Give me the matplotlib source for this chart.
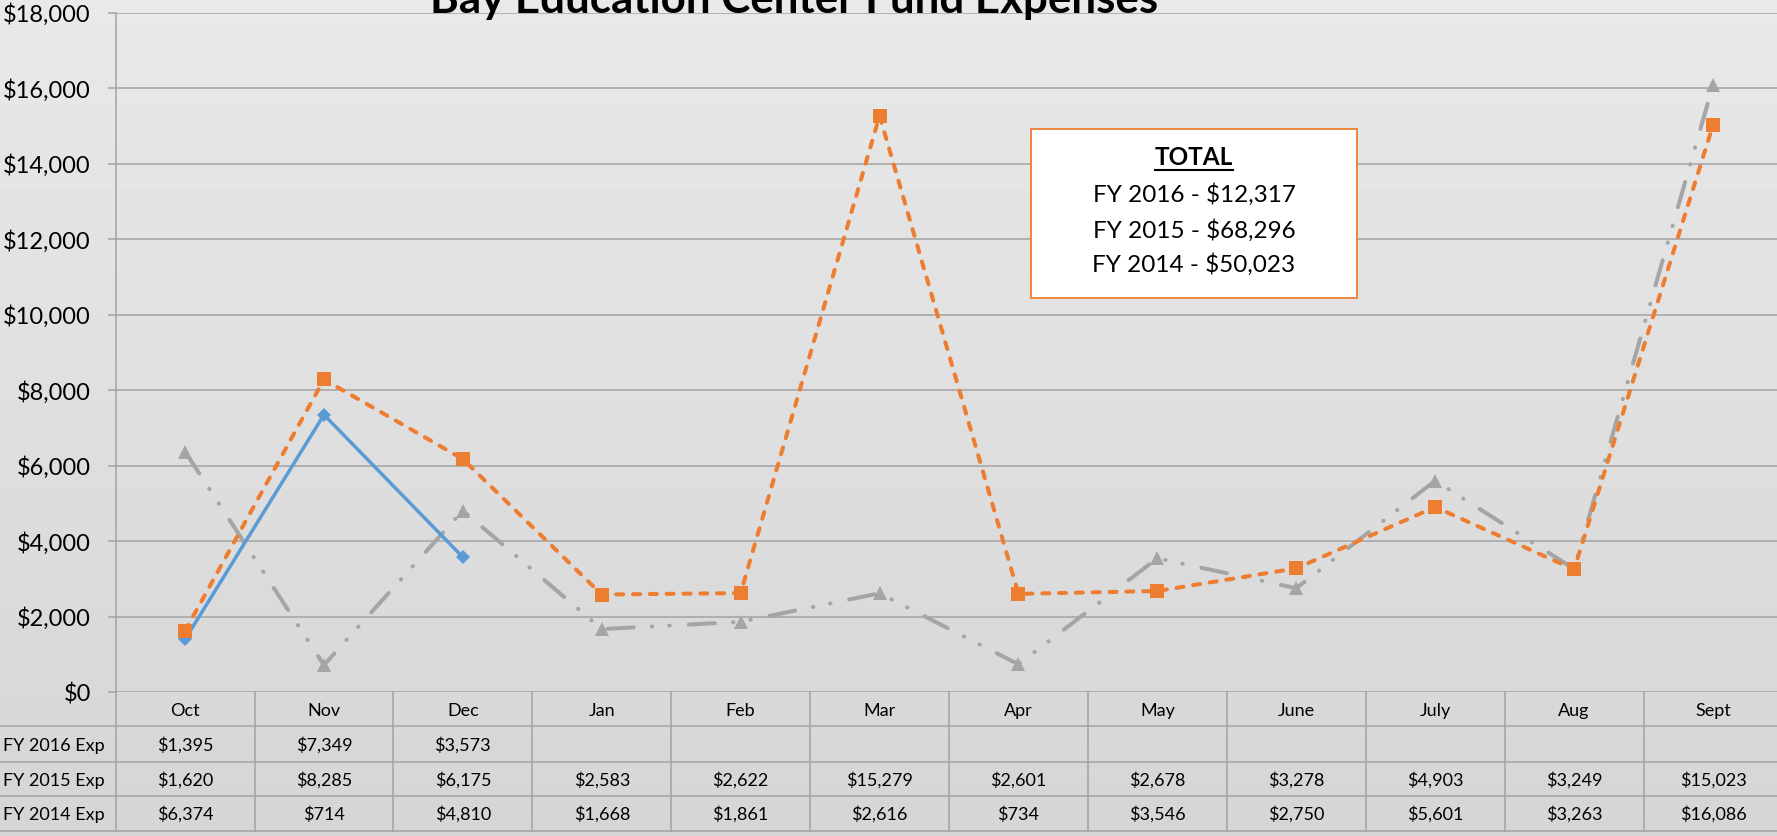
import matplotlib
matplotlib.use('Agg')
import matplotlib.pyplot as plt
import numpy as np
from matplotlib.lines import Line2D
from matplotlib.patches import Rectangle
import matplotlib.transforms as mtransforms
from matplotlib.ticker import FuncFormatter

# ---------------- data ----------------
months = ['Oct', 'Nov', 'Dec', 'Jan', 'Feb', 'Mar', 'Apr', 'May', 'June', 'July', 'Aug', 'Sept']
fy2016 = [1395, 7349, 3573]
fy2015 = [1620, 8285, 6175, 2583, 2622, 15279, 2601, 2678, 3278, 4903, 3249, 15023]
fy2014 = [6374, 714, 4810, 1668, 1861, 2616, 734, 3546, 2750, 5601, 3263, 16086]
series_labels = ['FY 2016 Exp', 'FY 2015 Exp', 'FY 2014 Exp']
box_labels = ['FY 2016', 'FY 2015', 'FY 2014']
title = 'Bay Education Center Fund Expenses'
yticks = list(range(0, 18001, 2000))

FONT = ['Lato', 'DejaVu Sans']
plt.rcParams['font.family'] = FONT

W, H = 1777, 836
fig = plt.figure(figsize=(W / 100, H / 100), dpi=100)

def fx(px):
    return px / W

def fy(py):  # py measured from top
    return 1 - py / H

# background gradient
bg = fig.add_axes([0, 0, 1, 1], zorder=-10)
grad = np.linspace(0.912, 0.835, 256)[:, None]
bg.imshow(grad, cmap='gray', vmin=0, vmax=1, aspect='auto', extent=[0, 1, 0, 1], origin='upper')
bg.axis('off')

# ---------------- main axes ----------------
left_px, col_w = 115.6, 138.9
top_px, zero_px = 13, 692
ax = fig.add_axes([fx(left_px), fy(zero_px), 12 * col_w / W, (zero_px - top_px) / H])
ax.patch.set_alpha(0)
ax.set_xlim(-0.5, 11.5)
ax.set_ylim(0, 18000)

GRID = '#A3A3A3'
ax.set_yticks(yticks)
ax.yaxis.set_major_formatter(FuncFormatter(lambda v, p: '${:,.0f}'.format(v)))
ax.yaxis.grid(True, color=GRID, lw=1.1)
ax.set_axisbelow(True)
ax.tick_params(axis='y', length=5.8, width=1.1, color=GRID, pad=12, labelsize=17, labelcolor='black')
ax.tick_params(axis='x', length=0, labelbottom=False)
for s in ['top', 'right', 'bottom']:
    ax.spines[s].set_visible(False)
ax.spines['left'].set_color(GRID)
ax.spines['left'].set_linewidth(1.1)

x = np.arange(len(months))
ax.plot(x, fy2014, color='#A5A5A5', lw=2.9,
        ls=(0, (6.5, 4.5, 0.1, 4.25, 0.1, 4.75)), dash_capstyle='round',
        marker='^', ms=10, mfc='#A5A5A5', mec='#A5A5A5', mew=0, zorder=3, clip_on=False)
ax.plot(x[:len(fy2016)], fy2016, color='#5B9BD5', lw=2.5,
        marker='D', ms=7, mfc='#5B9BD5', mec='#5B9BD5', mew=0, zorder=4, clip_on=False)
ax.plot(x, fy2015, color='#ED7D31', lw=2.9, ls=(0, (1.75, 2.425)), dash_capstyle='round',
        marker='s', ms=10, mfc='#ED7D31', mec='#ED7D31', mew=0, zorder=5, clip_on=False)

# ---------------- data table ----------------
trans = mtransforms.blended_transform_factory(ax.transData, fig.transFigure)
row_lines = [726, 762, 796, 831]
for yl in row_lines:
    fig.add_artist(Line2D([0, 1], [fy(yl), fy(yl)], transform=fig.transFigure, color=GRID, lw=1.1))
for k in range(len(months) + 1):
    fig.add_artist(Line2D([k - 0.5, k - 0.5], [fy(zero_px), fy(831)], transform=trans, color=GRID, lw=1.1))

TS = 13
cap = 6.6
for i, m in enumerate(months):
    fig.text(i, fy(709 + cap), m, transform=trans, ha='center', va='baseline', fontsize=TS)
row_centers = [744, 779, 813.5]
for lab, vals, rc in zip(series_labels, [fy2016, fy2015, fy2014], row_centers):
    fig.text(fx(3), fy(rc + cap), lab, ha='left', va='baseline', fontsize=TS)
    for i, v in enumerate(vals):
        fig.text(i, fy(rc + cap), '${:,}'.format(v), transform=trans, ha='center', va='baseline', fontsize=TS)

# ---------------- totals box ----------------
fig.add_artist(Rectangle((fx(1031), fy(298)), (1357 - 1031) / W, (298 - 129) / H,
                         transform=fig.transFigure, facecolor='white', edgecolor='#ED7D31', lw=1.3))
cx = fx(1194)
tt = fig.text(cx, fy(165), 'TOTAL', ha='center', va='baseline', fontsize=17.5, fontweight='bold')
for lab, vals, by in zip(box_labels, [fy2016, fy2015, fy2014], [202, 238, 272]):
    fig.text(cx, fy(by), '{} - ${:,}'.format(lab, sum(vals)), ha='center', va='baseline', fontsize=17.5)

# ---------------- title ----------------
t = fig.text(fx(794.5), fy(13), title, ha='center', va='baseline', fontsize=30, fontweight='bold')
fig.canvas.draw()
r = fig.canvas.get_renderer()
bb = t.get_window_extent(r)
t.set_fontsize(30 * 727 / bb.width)

bb2 = tt.get_window_extent(r)
fig.add_artist(Line2D([bb2.x0 / W, bb2.x1 / W], [fy(170), fy(170)], transform=fig.transFigure,
                      color='black', lw=1.5))

fig.savefig('out.png', dpi=100)
